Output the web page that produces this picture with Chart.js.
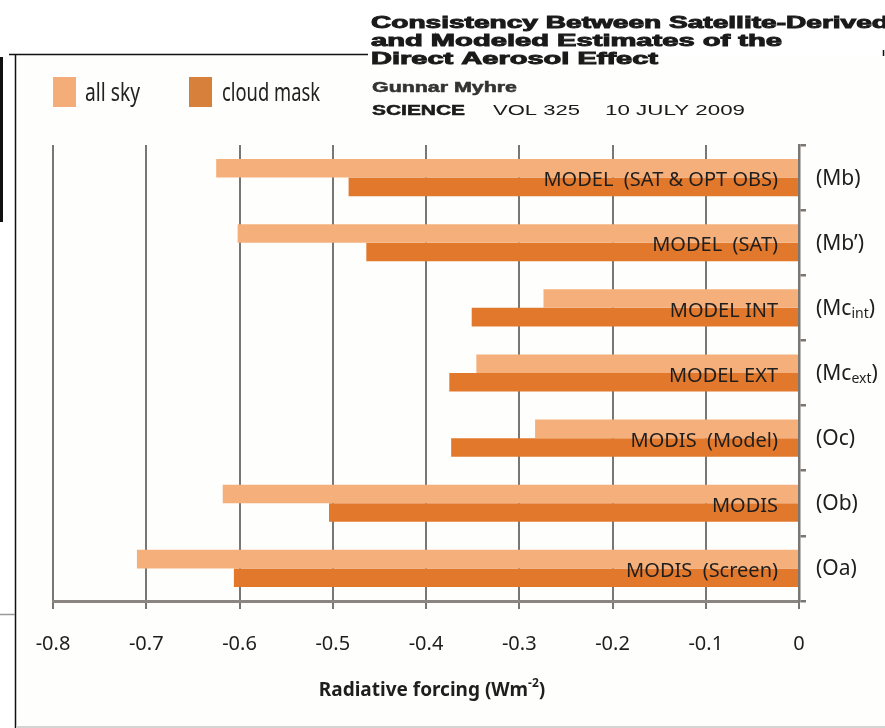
<!DOCTYPE html>
<html>
<head>
<meta charset="utf-8">
<script src="https://cdn.jsdelivr.net/npm/chart.js@4.4.0/dist/chart.umd.min.js"></script>
<style>
html, body { margin: 0; padding: 0; background: #fff; }
canvas { display: block; }
</style>
</head>
<body>
<canvas id="canvas" width="885" height="728"></canvas>
<script>
// data (Myhre, Science 2009)
var barNames = ['MODEL  (SAT & OPT OBS)', 'MODEL  (SAT)', 'MODEL INT', 'MODEL EXT', 'MODIS  (Model)', 'MODIS', 'MODIS  (Screen)'];
var codes = ['Mb', 'Mb\u2019', 'Mc', 'Mc', 'Oc', 'Ob', 'Oa'];
var codeSubs = ['', '', 'int', 'ext', '', '', ''];
var allSky = [-0.625, -0.602, -0.274, -0.346, -0.283, -0.618, -0.710];
var cloudMask = [-0.483, -0.464, -0.351, -0.375, -0.373, -0.504, -0.606];
var seriesNames = ['all sky', 'cloud mask'];
var xMin = -0.8;
var xMax = 0;
var xStep = 0.1;
var axisTitle = 'Radiative forcing (Wm';
var axisTitleSup = '-2';

var LIGHT = '#f4af7b';
var DARK = '#e2782c';
var GRID = '#7a7672';
var TXT = '#1e1e1e';

// squeeze or stretch a text run to a given width
function drawWide(ctx, text, x, y, font, width, bold) {
	ctx.font = font;
	var w = ctx.measureText(text).width;
	ctx.save();
	ctx.translate(x, y);
	ctx.scale(width / w, 1);
	ctx.fillText(text, 0, 0);
	if (bold) {
		ctx.strokeStyle = ctx.fillStyle;
		ctx.lineWidth = bold;
		ctx.strokeText(text, 0, 0);
	}
	ctx.restore();
}

var decorPlugin = {
	id: 'decor',
	beforeDraw: function(chart) {
		var ctx = chart.ctx;
		ctx.save();
		ctx.fillStyle = '#fefefc';
		ctx.fillRect(16, 55, 869, 671);
		// page frame bits
		ctx.strokeStyle = '#111';
		ctx.lineWidth = 1.5;
		ctx.beginPath();
		ctx.moveTo(15.5, 54);
		ctx.lineTo(15.5, 728);
		ctx.moveTo(9, 54.5);
		ctx.lineTo(368, 54.5);
		ctx.moveTo(883.5, 50);
		ctx.lineTo(883.5, 56);
		ctx.stroke();
		ctx.lineWidth = 3;
		ctx.beginPath();
		ctx.moveTo(1.5, 57);
		ctx.lineTo(1.5, 222);
		ctx.stroke();
		ctx.strokeStyle = '#999';
		ctx.lineWidth = 1.5;
		ctx.beginPath();
		ctx.moveTo(0, 614.5);
		ctx.lineTo(15, 614.5);
		ctx.stroke();
		ctx.strokeStyle = '#d4d4d4';
		ctx.lineWidth = 2;
		ctx.beginPath();
		ctx.moveTo(16, 727);
		ctx.lineTo(885, 727);
		ctx.stroke();
		ctx.restore();
	},
	afterDraw: function(chart) {
		var ctx = chart.ctx;
		var ys = chart.scales.y;
		var area = chart.chartArea;
		ctx.save();
		ctx.fillStyle = TXT;
		ctx.textBaseline = 'middle';

		// labels inside the bars
		ctx.font = '20px "Noto Sans", sans-serif';
		ctx.textAlign = 'right';
		for (var i = 0; i < barNames.length; i++) {
			ctx.fillText(barNames[i], area.right - 21, ys.getPixelForValue(i) + 3);
		}

		// codes on the right
		ctx.textAlign = 'left';
		for (var j = 0; j < codes.length; j++) {
			var y = ys.getPixelForValue(j) + 1;
			var x = area.right + 17;
			ctx.font = '21px "Noto Sans", sans-serif';
			ctx.fillText('(' + codes[j], x, y);
			x += ctx.measureText('(' + codes[j]).width;
			if (codeSubs[j]) {
				ctx.font = '14px "Noto Sans", sans-serif';
				ctx.fillText(codeSubs[j], x, y + 5);
				x += ctx.measureText(codeSubs[j]).width;
				ctx.font = '21px "Noto Sans", sans-serif';
			}
			ctx.fillText(')', x, y);
		}

		// axis title with superscript
		ctx.font = 'bold 19px "Noto Sans", sans-serif';
		var w1 = ctx.measureText(axisTitle).width;
		ctx.font = 'bold 12px "Noto Sans", sans-serif';
		var w2 = ctx.measureText(axisTitleSup).width;
		ctx.font = 'bold 19px "Noto Sans", sans-serif';
		var w3 = ctx.measureText(')').width;
		var tx = 432 - (w1 + w2 + w3) / 2;
		ctx.fillText(axisTitle, tx, 691);
		ctx.font = 'bold 12px "Noto Sans", sans-serif';
		ctx.fillText(axisTitleSup, tx + w1, 684);
		ctx.font = 'bold 19px "Noto Sans", sans-serif';
		ctx.fillText(')', tx + w1 + w2, 691);

		// legend
		var ds = chart.data.datasets;
		var legendX = [53, 189];
		var legendTextX = [85, 222];
		var legendTextW = [55, 98];
		var legendColors = ['#f4ac78', '#d7803c'];
		for (var k = 0; k < ds.length; k++) {
			ctx.fillStyle = legendColors[k];
			ctx.fillRect(legendX[k], 77, 23, 30);
			ctx.fillStyle = '#222';
			drawWide(ctx, ds[k].label, legendTextX[k], 94, '25px "Noto Sans", sans-serif', legendTextW[k]);
		}

		// header text
		ctx.fillStyle = '#1a1a1a';
		ctx.textBaseline = 'alphabetic';
		var hf = 'bold 16px "Liberation Sans", Arial, sans-serif';
		drawWide(ctx, 'Consistency Between Satellite-Derived', 371, 28, hf, 518, 0.9);
		drawWide(ctx, 'and Modeled Estimates of the', 371, 46, hf, 411, 0.9);
		drawWide(ctx, 'Direct Aerosol Effect', 371, 64, hf, 287, 0.9);
		ctx.fillStyle = '#333';
		drawWide(ctx, 'Gunnar Myhre', 372, 92, 'bold 14px "Liberation Sans", Arial, sans-serif', 145, 0.5);
		ctx.fillStyle = '#1a1a1a';
		drawWide(ctx, 'SCIENCE', 372, 115, 'bold 14px "Liberation Sans", Arial, sans-serif', 93, 0.5);
		drawWide(ctx, 'VOL 325', 493, 115, '14px "Liberation Sans", Arial, sans-serif', 87);
		drawWide(ctx, '10 JULY 2009', 605, 115, '14px "Liberation Sans", Arial, sans-serif', 140);
		ctx.restore();
	}
};

var ctx = document.getElementById('canvas').getContext('2d');
window.myBar = new Chart(ctx, {
	type: 'bar',
	data: {
		labels: codes,
		datasets: [{
			label: seriesNames[0],
			data: allSky,
			backgroundColor: LIGHT,
			borderWidth: 0
		}, {
			label: seriesNames[1],
			data: cloudMask,
			backgroundColor: DARK,
			borderWidth: 0
		}]
	},
	options: {
		indexAxis: 'y',
		responsive: false,
		animation: false,
		devicePixelRatio: 1,
		barPercentage: 1,
		categoryPercentage: 0.57,
		layout: {
			padding: { left: 53, right: 79, top: 145, bottom: 49 }
		},
		plugins: {
			legend: { display: false },
			tooltip: { enabled: false }
		},
		scales: {
			x: {
				min: xMin,
				max: xMax,
				ticks: {
					stepSize: xStep,
					padding: 23,
					color: TXT,
					font: { family: '"Noto Sans", sans-serif', size: 20 },
					maxRotation: 0,
					callback: function(value) {
						var v = Math.round(value * 10) / 10;
						return v === 0 ? '0' : v.toFixed(1);
					}
				},
				grid: {
					color: GRID,
					lineWidth: 2,
					tickLength: 8,
					tickColor: GRID
				},
				border: { display: true, color: '#8a8581', width: 3 }
			},
			y: {
				position: 'right',
				z: 1,
				ticks: { display: false },
				grid: {
					drawOnChartArea: false,
					offset: true,
					tickLength: 7,
					tickColor: GRID,
					lineWidth: 2.5
				},
				border: { display: true, color: GRID, width: 2.5 }
			}
		}
	},
	plugins: [decorPlugin]
});
</script>
</body>
</html>
